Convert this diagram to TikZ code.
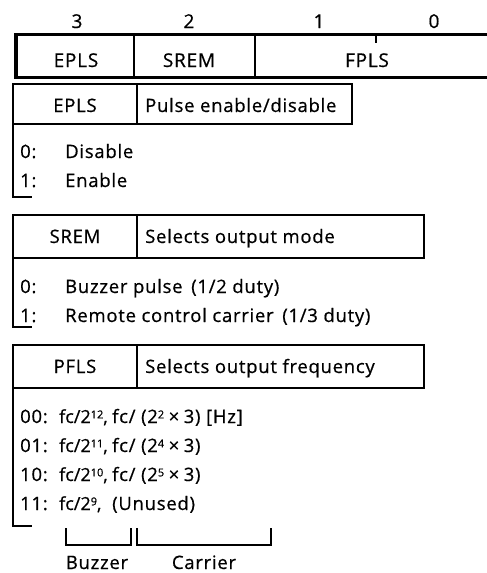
\documentclass[tikz,border=0pt]{standalone}
\usepackage{fontspec}
\setmainfont{Open Sans}[LetterSpace=4,FakeBold=0.6]
\newfontfamily\tightfont{Open Sans}[LetterSpace=0,FakeBold=0.6]
\newcommand\sups[1]{\raisebox{4.6pt}{\fontsize{11}{12}\selectfont #1}}
\newcommand\tms{\hspace{4.5pt}×\hspace{4.5pt}}
\begin{document}
\begin{tikzpicture}[x=1pt,y=-1pt,
  txt/.style={inner sep=0pt, anchor=base west, font=\fontsize{18.5}{20}\selectfont},
  ftxt/.style={inner sep=0pt, anchor=base west, font=\tightfont\fontsize{18}{20}\selectfont},
  ctxt/.style={inner sep=0pt, anchor=base, font=\fontsize{18.5}{20}\selectfont},
  rtxt/.style={inner sep=0pt, anchor=base, font=\fontsize{19}{20}\selectfont},
  outer/.style={line width=2pt},
  inner/.style={line width=1.4pt},
  brk/.style={line width=1.5pt}]
\useasboundingbox (0,0) rectangle (487,573);
% register
\node[rtxt] (b3) at (77,28) {3};
\node[rtxt] (b2) at (189,28) {2};
\node[rtxt] (b1) at (319,28) {1};
\node[rtxt] (b0) at (434,28) {0};
\draw[line width=3pt] (492,34) -- (15,34) -- (15,77) -- (492,77);
\draw[line width=2pt] (17,34) -- (17,77);
\draw[inner] (134,34) -- (134,77);
\draw[inner] (255,34) -- (255,77);
\draw[inner] (376,34) -- (376,43);
\node[rtxt] (rE) at (76,67) {EPLS};
\node[rtxt] (rS) at (189,67) {SREM};
\node[rtxt] (rF) at (367,67) {FPLS};
% EPLS box
\draw[outer] (13,84) rectangle (352,124);
\draw[inner] (137,84) -- (137,124);
\node[ctxt] (hE) at (75,112) {EPLS};
\node[txt] (dE) at (145,112) {Pulse enable/disable};
\draw[brk] (13,124) -- (13,197) -- (32,197);
\node[txt] (e0) at (20,158) {0:};
\node[txt] (e0t) at (65,158) {Disable};
\node[txt] (e1) at (20,187) {1:};
\node[txt] (e1t) at (65,187) {Enable};
% SREM box
\draw[outer] (13,215) rectangle (424,258);
\draw[inner] (137,215) -- (137,258);
\node[ctxt] (hS) at (75,243) {SREM};
\node[txt] (dS) at (145,243) {Selects output mode};
\draw[brk] (13,258) -- (13,327) -- (32,327);
\node[txt] (s0) at (20,293) {0:};
\node[txt] (s0t) at (65,293) {Buzzer pulse \,(1/2 duty)};
\node[txt] (s1) at (20,322) {1:};
\node[txt] (s1t) at (65,322) {Remote control carrier \,(1/3 duty)};
% PFLS box
\draw[outer] (13,345) rectangle (424,388);
\draw[inner] (137,345) -- (137,388);
\node[ctxt] (hP) at (75,373) {PFLS};
\node[txt] (dP) at (145,373) {Selects output frequency};
\draw[brk] (13,388) -- (13,526) -- (32,526);
\node[txt] (p0) at (20,423) {00:};
\node[ftxt] (p0a) at (59,423) {fc/2\sups{12},};
\node[txt] (p0b) at (112,423) {fc/ (2\sups{2}\tms{}3) [Hz]};
\node[txt] (p1) at (20,452) {01:};
\node[ftxt] (p1a) at (59,452) {fc/2\sups{11},};
\node[txt] (p1b) at (112,452) {fc/ (2\sups{4}\tms{}3)};
\node[txt] (p2) at (20,481) {10:};
\node[ftxt] (p2a) at (59,481) {fc/2\sups{10},};
\node[txt] (p2b) at (112,481) {fc/ (2\sups{5}\tms{}3)};
\node[txt] (p3) at (20,510) {11:};
\node[ftxt] (p3a) at (59,510) {fc/2\sups{9},};
\node[txt] (p3b) at (112,510) {(Unused)};
% braces
\draw[brk] (66,528) -- (66,545) -- (131,545) -- (131,528);
\draw[brk] (137,528) -- (137,545) -- (271,545) -- (271,528);
\node[ctxt] (lb) at (97,569) {Buzzer};
\node[ctxt] (lc) at (204,569) {Carrier};
\end{tikzpicture}
\end{document}
